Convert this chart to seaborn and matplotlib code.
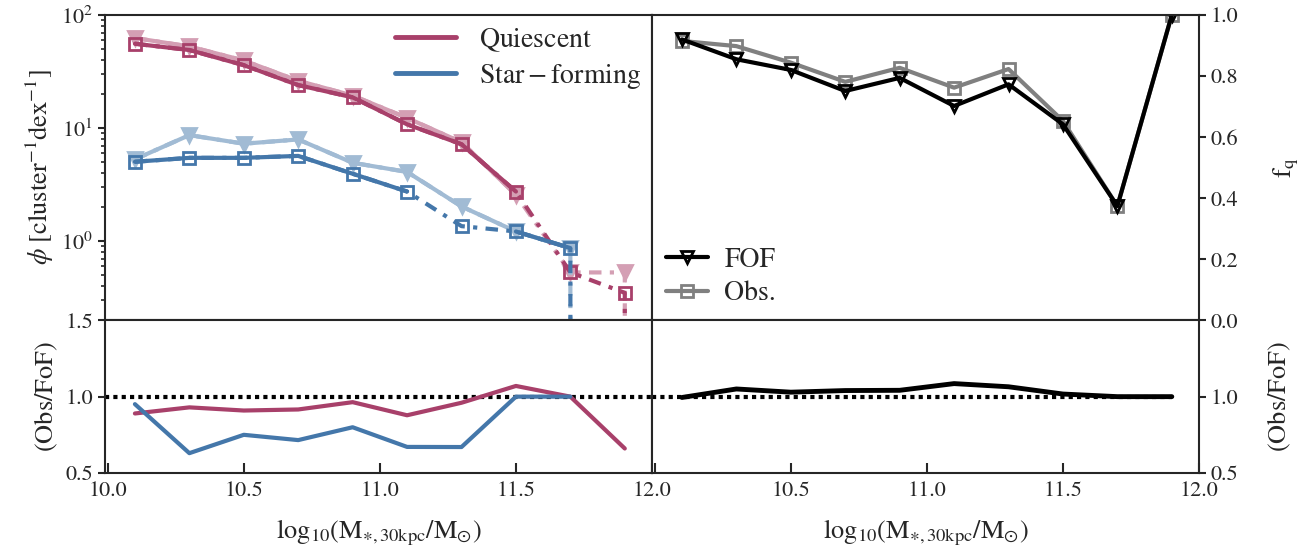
import numpy as np
import pandas as pd
import matplotlib
matplotlib.use("Agg")
import matplotlib.pyplot as plt
from matplotlib.lines import Line2D
import seaborn as sns

# stellar mass bin centres
mass_bins = [10.1, 10.3, 10.5, 10.7, 10.9, 11.1, 11.3, 11.5, 11.7, 11.9, 12.1]

# number density phi per cluster per dex
q_obs = [55.7, 49.0, 36.0, 24.0, 18.7, 10.8, 7.2, 2.75, 0.53, 0.35, 0.0]
q_fof = [62.6, 52.7, 39.6, 26.2, 19.4, 12.3, 7.5, 2.57, 0.53, 0.53, 0.0]
sf_obs = [5.04, 5.46, 5.46, 5.68, 3.95, 2.75, 1.36, 1.22, 0.87, 0.0, 0.0]
sf_fof = [5.3, 8.67, 7.28, 7.94, 4.94, 4.1, 2.03, 1.22, 0.87, 0.0, 0.0]

# bins with enough galaxies (solid line), others dash-dot
q_obs_ok = [1, 1, 1, 1, 1, 1, 1, 1, 0, 0, 0]
q_fof_ok = [1, 1, 1, 1, 1, 1, 1, 1, 0, 0, 0]
sf_obs_ok = [1, 1, 1, 1, 1, 1, 0, 1, 1, 0, 0]
sf_fof_ok = [1, 1, 1, 1, 1, 1, 1, 1, 1, 0, 0]

# quiescent fraction
fq_bins = [10.1, 10.3, 10.5, 10.7, 10.9, 11.1, 11.3, 11.5, 11.7, 11.9]
fq_fof = [0.920, 0.855, 0.820, 0.751, 0.794, 0.702, 0.773, 0.642, 0.374, 1.0]
fq_obs = [0.915, 0.898, 0.844, 0.781, 0.827, 0.762, 0.823, 0.653, 0.374, 1.0]

c_q = "#A8406A"
c_sf = "#4477AA"
c_q_light = "#D49FB4"
c_sf_light = "#A1BBD4"

sns.set_style("ticks")
plt.rcParams["font.family"] = ["STIXGeneral", "DejaVu Serif"]
plt.rcParams["mathtext.fontset"] = "stix"
plt.rcParams["axes.linewidth"] = 1.5

x = np.array(mass_bins)
with np.errstate(divide="ignore", invalid="ignore"):
    q_ratio = np.array(q_obs) / np.array(q_fof)
    sf_ratio = np.array(sf_obs) / np.array(sf_fof)
    fq_ratio = np.array(fq_obs) / np.array(fq_fof)

df_ratio = pd.DataFrame({"m": mass_bins, "q": q_ratio, "sf": sf_ratio})
df_fq = pd.DataFrame({"m": fq_bins, "fof": fq_fof, "obs": fq_obs, "ratio": fq_ratio})

fig = plt.figure(figsize=(13.14, 5.53), dpi=100)
gs = fig.add_gridspec(2, 2, height_ratios=[2, 1], left=0.0799, right=0.9125,
                      top=0.9729, bottom=0.1447, wspace=0, hspace=0)
ax_tl = fig.add_subplot(gs[0, 0])
ax_tr = fig.add_subplot(gs[0, 1])
ax_bl = fig.add_subplot(gs[1, 0])
ax_br = fig.add_subplot(gs[1, 1])

ax_tl.set_yscale("log")


def plot_phi(ax, y, ok, color, marker, ms, mfc):
    y = np.array(y, dtype=float)
    y_ok = np.where(np.array(ok) == 1, y, np.nan)
    ax.plot(x, y, color=color, lw=3, ls="-.", dashes=(3, 2, 1, 2),
            marker=marker, ms=ms, mfc=mfc, mec=color, mew=2)
    ax.plot(x, y_ok, color=color, lw=3, ls="-")


plot_phi(ax_tl, q_fof, q_fof_ok, c_q_light, "v", 10, c_q_light)
plot_phi(ax_tl, sf_fof, sf_fof_ok, c_sf_light, "v", 10, c_sf_light)
plot_phi(ax_tl, q_obs, q_obs_ok, c_q, "s", 8, "none")
plot_phi(ax_tl, sf_obs, sf_obs_ok, c_sf, "s", 8, "none")

ax_tl.set_ylim(0.2, 100)
ax_tl.set_ylabel(r"$\phi\ [\rm cluster^{-1}dex^{-1}]$", fontsize=19)
handles = [Line2D([], [], color=c_q, lw=3.5), Line2D([], [], color=c_sf, lw=3.5)]
ax_tl.legend(handles, [r"$\rm Quiescent$", r"$\rm Star-forming$"], loc="upper right",
             frameon=False, fontsize=20, handlelength=2.2, borderaxespad=0.0,
             labelspacing=0.3)

# quiescent fraction
sns.lineplot(data=df_fq, x="m", y="obs", ax=ax_tr, color="grey", lw=3, marker="s",
             ms=8, mfc="none", mec="grey", mew=2, label="Obs.")
sns.lineplot(data=df_fq, x="m", y="fof", ax=ax_tr, color="black", lw=3, marker="v",
             ms=9, mfc="none", mec="black", mew=2, label="FOF")
h, l = ax_tr.get_legend_handles_labels()
ax_tr.legend(h[::-1], l[::-1], loc="lower left", frameon=False, fontsize=20,
             handlelength=1.5, handletextpad=0.6, borderaxespad=0.1, labelspacing=0.3)
ax_tr.set_ylim(0, 1)
ax_tr.set_yticks([0, 0.2, 0.4, 0.6, 0.8, 1.0])
ax_tr.yaxis.tick_right()
ax_tr.yaxis.set_label_position("right")
ax_tr.set_ylabel(r"$\rm f_q$", fontsize=19, labelpad=24)

# ratio panels
ax_bl.axhline(1, color="black", ls=(0, (1, 1)), lw=3)
sns.lineplot(data=df_ratio, x="m", y="q", ax=ax_bl, color=c_q, lw=3)
sns.lineplot(data=df_ratio, x="m", y="sf", ax=ax_bl, color=c_sf, lw=3)
ax_bl.set_ylim(0.5, 1.5)
ax_bl.set_yticks([0.5, 1.0, 1.5])
ax_bl.set_ylabel(r"$\rm (Obs/FoF)$", fontsize=19)

ax_br.hlines(1, 9.99, fq_bins[-1], color="black", ls=(0, (1, 1)), lw=3)
sns.lineplot(data=df_fq, x="m", y="ratio", ax=ax_br, color="black", lw=3.5)
ax_br.set_ylim(0.5, 1.5)
ax_br.set_yticks([0.5, 1.0])
ax_br.yaxis.tick_right()
ax_br.yaxis.set_label_position("right")
ax_br.set_ylabel(r"$\rm (Obs/FoF)$", fontsize=19, labelpad=20)

xlabel = r"$\rm log_{10}(M_{\ast,30kpc}/M_{\odot})$"
for ax in [ax_bl, ax_br]:
    ax.set_xlabel(xlabel, fontsize=19, labelpad=12)
    ax.set_xticks([10.0, 10.5, 11.0, 11.5, 12.0])
    ax.tick_params(axis="x", direction="in", length=7, width=1.5, labelsize=16, pad=6)
ax_br.set_xticklabels(["", "10.5", "11.0", "11.5", "12.0"])

for ax in [ax_tl, ax_tr, ax_bl, ax_br]:
    ax.set_xlim(9.99, 12.0)
    ax.tick_params(axis="y", direction="out", labelsize=16, width=1.5, length=5)
    ax.tick_params(axis="y", which="minor", direction="out", width=1.2, length=3)
for ax in [ax_tl, ax_tr]:
    ax.tick_params(axis="x", which="both", bottom=False, labelbottom=False)
    ax.set_xlabel("")

fig.savefig("out.png", dpi=100)
